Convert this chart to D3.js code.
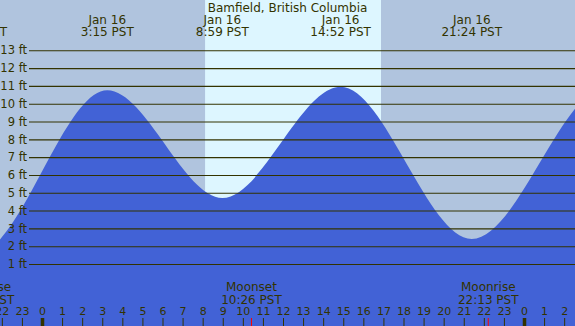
<!DOCTYPE html>
<html><head><meta charset="utf-8">
<script src="https://cdn.jsdelivr.net/npm/d3@7"></script>
<style>
html,body{margin:0;padding:0;background:#fff;}
svg{display:block;font-family:"DejaVu Sans",sans-serif;}
</style></head>
<body>
<script>
// Hours are counted from Jan 16 00:00 PST
const title = "Bamfield, British Columbia";
const tideTimes   = [-9.5, -3.25, 3.25, 8.98, 14.87, 21.4, 28.2, 34.5];
const tideHeights = [10.9, 1.6, 10.75, 4.7, 10.95, 2.4, 11.0, 4.6];
const tideLabels  = [["Jan 15","14:30 PST"],["Jan 15","20:45 PST"],["Jan 16","3:15 PST"],["Jan 16","8:59 PST"],["Jan 16","14:52 PST"],["Jan 16","21:24 PST"],["Jan 17","4:12 PST"],["Jan 17","10:30 PST"]];
const sunTimes = [8.12, 16.88];           // sunrise, sunset
const moonEvents = ["Moonrise","Moonset","Moonrise"];
const moonTimes  = [-2.89, 10.43, 22.22];
const moonLabels = ["21:07 PST","10:26 PST","22:13 PST"];
const heightTicks = d3.range(1, 14);
const hourTicks = d3.range(-2, 27);

const W = 575, H = 326;
const x = d3.scaleLinear().domain([0, 24]).range([42, 524]);
const y = d3.scaleLinear().domain([0, 13]).range([281.8, 50.3]);
const ink = "#333300";

const svg = d3.select("body").append("svg").attr("width", W).attr("height", H);

// night background
svg.append("rect").attr("width", W).attr("height", H).attr("fill", "#b0c4de");
// daylight
svg.append("rect").attr("x", x(sunTimes[0])).attr("y", 0)
  .attr("width", x(sunTimes[1]) - x(sunTimes[0])).attr("height", H).attr("fill", "#ddf6ff");

// tide area
const pts = tideTimes.map((t, i) => [t, tideHeights[i]]);
const area = d3.area().x(d => x(d[0])).y0(H).y1(d => y(d[1])).curve(d3.curveMonotoneX);
svg.append("path").datum(pts).attr("d", area).attr("fill", "#4262d6");

// height grid / axis
const yAxis = d3.axisLeft(y).tickValues(heightTicks).tickSize(-(W - 29)).tickPadding(2)
  .tickFormat(d => d + " ft");
const gy = svg.append("g").attr("transform", "translate(29,0)").call(yAxis);
gy.select(".domain").remove();
gy.selectAll("line").attr("stroke", ink).attr("stroke-width", 1.1);
gy.selectAll("text").attr("fill", ink).attr("font-size", 11.5).attr("font-family", "DejaVu Sans");

// hour axis
const xAxis = d3.axisTop(x).tickValues(hourTicks).tickSize(8).tickPadding(3)
  .tickFormat(d => ((d % 24) + 24) % 24);
const gx = svg.append("g").attr("transform", `translate(0,${H})`).call(xAxis);
gx.select(".domain").remove();
gx.selectAll("line").attr("stroke", ink)
  .attr("stroke-width", d => (((d % 24) + 24) % 24 === 0) ? 3.5 : 1);
gx.selectAll("text").attr("fill", ink).attr("font-size", 11).attr("font-family", "DejaVu Sans");

// moon events
moonTimes.forEach((t, i) => {
  svg.append("line").attr("x1", x(t)).attr("x2", x(t)).attr("y1", H - 8).attr("y2", H)
    .attr("stroke", "red").attr("stroke-width", 1);
  const g = svg.append("text").attr("text-anchor", "middle").attr("fill", ink).attr("font-size", 12);
  g.append("tspan").attr("x", x(t)).attr("y", 291).text(moonEvents[i]);
  g.append("tspan").attr("x", x(t)).attr("y", 303.5).text(moonLabels[i]);
});

// tide extreme labels
tideTimes.forEach((t, i) => {
  const g = svg.append("text").attr("text-anchor", "middle").attr("fill", ink).attr("font-size", 12);
  g.append("tspan").attr("x", x(t)).attr("y", 23.5).text(tideLabels[i][0]);
  g.append("tspan").attr("x", x(t)).attr("y", 36).text(tideLabels[i][1]);
});

// title
svg.append("text").attr("x", W / 2).attr("y", 12).attr("text-anchor", "middle")
  .attr("fill", ink).attr("font-size", 12).text(title);
</script>
</body></html>
